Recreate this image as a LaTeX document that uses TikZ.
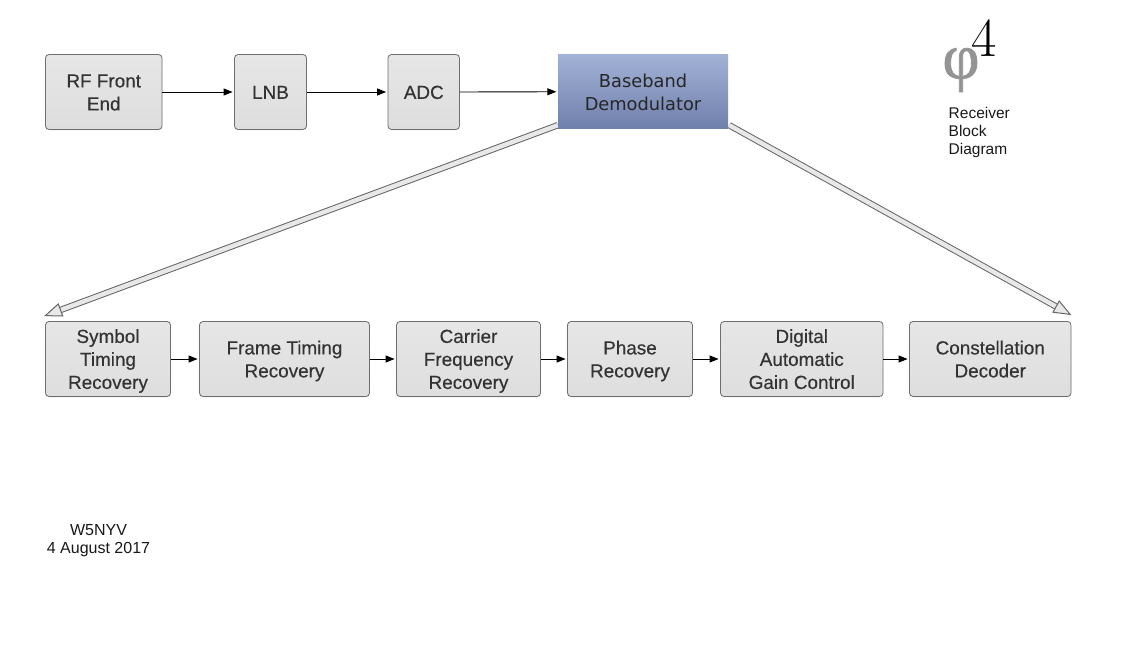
\documentclass[tikz,border=0pt]{standalone}
\usepackage{fontspec}
\setmainfont{Liberation Sans}
\newfontfamily\lmfont{Latin Modern Roman}
\newfontfamily\phifont[FakeBold=1.2]{Liberation Serif}
\newfontfamily\dvfont{DejaVu Sans}
\newfontfamily\boxfont[FakeBold=0.35]{Liberation Sans}
\usetikzlibrary{arrows.meta,calc,shadows}
\definecolor{boxedge}{HTML}{6E6E6E}
\definecolor{boxtop}{HTML}{E6E6E6}
\definecolor{boxbot}{HTML}{DEDEDE}
\definecolor{txt}{HTML}{333333}
\definecolor{hedge}{HTML}{666666}
\definecolor{hfill}{HTML}{E8E8E8}
\definecolor{bbtop}{HTML}{A2B2D6}
\definecolor{bbbot}{HTML}{6F7FAB}
\newcommand\ls{\rule[-4.6pt]{0pt}{23pt}}
\tikzset{
  x=1pt,y=-1pt,
  graybox/.style={draw=boxedge,line width=0.8pt,rounded corners=3.5pt,top color=boxtop,bottom color=boxbot,
    inner sep=0pt,align=center,text=txt,font=\boxfont\fontsize{18.9}{23}\selectfont,
    drop shadow={shadow xshift=0pt,shadow yshift=-1pt,opacity=.12}},
  bluebox/.style={top color=bbtop,bottom color=bbbot,inner sep=0pt,align=center,text=black!85,
    font=\dvfont\fontsize{17.8}{23}\selectfont,draw=none},
  flow/.style={draw=black,line width=0.9pt,shorten >=1.5pt,-{Triangle[length=9pt,width=7pt]}},
  hollow/.style={draw=hedge,line width=1pt,double=hfill,double distance=4.4pt,
    -{Triangle[length=18pt,width=14pt,fill=hfill,color=hedge,line width=1pt]}},
  plain/.style={inner sep=0pt,align=left,text=black!90},
}
\begin{document}
\begin{tikzpicture}
\useasboundingbox (0,0) rectangle (1147,652);
\fill[white] (0,0) rectangle (1147,652);
% top row
\node[graybox,minimum width=116.5pt,minimum height=75pt] (rf) at (103.75,92) {\ls RF Front\\\ls End};
\node[graybox,minimum width=72pt,minimum height=75pt] (lnb) at (270.5,92) {\ls LNB};
\node[graybox,minimum width=71.5pt,minimum height=75pt] (adc) at (423.75,92) {\ls ADC};
\node[bluebox,minimum width=170pt,minimum height=74.5pt] (bb) at (643,91.75) {\ls Baseband\\\ls Demodulator};
% bottom row
\node[graybox,minimum width=125pt,minimum height=75pt] (sym) at (108,359) {\ls Symbol\\\ls Timing\\\ls Recovery};
\node[graybox,minimum width=170pt,minimum height=75pt] (frame) at (284.5,359) {\ls Frame Timing\\\ls Recovery};
\node[graybox,minimum width=144pt,minimum height=75pt] (carrier) at (468.5,359) {\ls Carrier\\\ls Frequency\\\ls Recovery};
\node[graybox,minimum width=125pt,minimum height=75pt] (phase) at (630,359) {\ls Phase\\\ls Recovery};
\node[graybox,minimum width=162.5pt,minimum height=75pt] (agc) at (801.75,359) {\ls Digital\\\ls Automatic\\\ls Gain Control};
\node[graybox,minimum width=161.5pt,minimum height=75pt] (cons) at (990.25,359) {\ls Constellation\\\ls Decoder};
% flow connectors
\draw[flow] (rf.east) -- (lnb.west);
\draw[flow] (lnb.east) -- (adc.west);
\draw[flow] (adc.east) -- (bb.west);
\draw[flow] (sym.east) -- (frame.west);
\draw[flow] (frame.east) -- (carrier.west);
\draw[flow] (carrier.east) -- (phase.west);
\draw[flow] (phase.east) -- (agc.west);
\draw[flow] (agc.east) -- (cons.west);
% hollow connectors
\coordinate (hla) at ($(bb.south west)+(0,-4)$);
\coordinate (hlb) at ($(sym.north west)+(-1,-5)$);
\coordinate (hra) at ($(bb.south east)+(1,-4)$);
\coordinate (hrb) at ($(cons.north east)+(0,-6)$);
\draw[hollow] (hla) -- (hlb);
\draw[hollow] (hra) -- (hrb);
% logo
\node[inner sep=0pt,text=black!42,font=\phifont\fontsize{64}{64}\selectfont] (phi) at (961,70) {φ};
\node[inner sep=0pt,text=black,font=\lmfont\fontsize{55}{55}\selectfont] (four) at (984,38) {4};
% labels
\node[plain,anchor=north west,font=\fontsize{15.5}{18}\selectfont] (title) at (948.5,107.5) {Receiver\\Block\\Diagram};
\node[plain,align=center,font=\fontsize{16}{18}\selectfont] (sign) at (98.5,541) {W5NYV\\4 August 2017};
\end{tikzpicture}
\end{document}
